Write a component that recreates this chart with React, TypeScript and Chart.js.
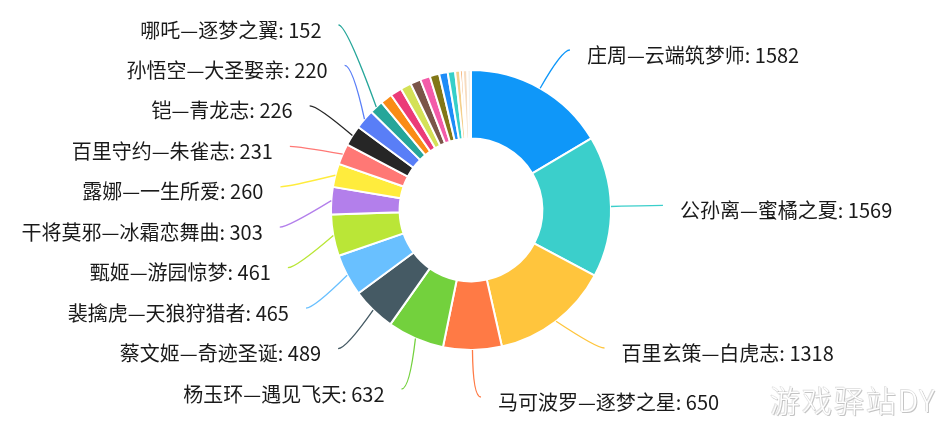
import React, { useEffect, useRef } from 'react';
import { Chart, registerables } from 'chart.js';

Chart.register(...registerables);

// ---- data ----
const skinNames: string[] = [
  '庄周—云端筑梦师',
  '公孙离—蜜橘之夏',
  '百里玄策—白虎志',
  '马可波罗—逐梦之星',
  '杨玉环—遇见飞天',
  '蔡文姬—奇迹圣诞',
  '裴擒虎—天狼狩猎者',
  '甄姬—游园惊梦',
  '干将莫邪—冰霜恋舞曲',
  '露娜—一生所爱',
  '百里守约—朱雀志',
  '铠—青龙志',
  '孙悟空—大圣娶亲',
  '哪吒—逐梦之翼',
  '其他皮肤1',
  '其他皮肤2',
  '其他皮肤3',
  '其他皮肤4',
  '其他皮肤5',
  '其他皮肤6',
  '其他皮肤7',
  '其他皮肤8',
  '其他皮肤9',
  '其他皮肤10',
  '其他皮肤11',
  '其他皮肤12',
];

const skinVotes: number[] = [
  1582, 1569, 1318, 650, 632, 489, 465, 461, 303, 260, 231, 226, 220, 152,
  132, 128, 120, 115, 110, 105, 95, 82, 55, 30, 50, 40,
];

const sliceColors: string[] = [
  '#0f97f9', '#3bcfcb', '#ffc53d', '#ff7a45', '#73d13d', '#455a64', '#69c0ff',
  '#bae637', '#b37feb', '#ffec3d', '#ff7875', '#262626', '#597ef7', '#26a69a',
  '#fa8c16', '#eb3b78', '#d4e157', '#7a5548', '#f35ca9', '#827717', '#1d8cf8',
  '#36cfc9', '#f4cf8a', '#f29a4a', '#f7dcc0', '#f3f1ec',
];

const LABEL_MIN_VALUE = 150;

// ---- label layout constants ----
const LEN1 = 44;
const LEN2 = 8;
const LABEL_H = 49;
const LABEL_MIN_Y = 25;
const LABEL_MAX_Y_LEFT = 389;
const LABEL_MAX_Y_RIGHT = 397;
const TEXT_GAP = 17;
const TEXT_DY = 5;
const LABEL_FONT = '20px "Noto Sans CJK SC", "Microsoft YaHei", sans-serif';

type Item = {
  i: number;
  dir: number;
  ax: number;
  ay: number;
  nx: number;
  ny: number;
  cx: number;
  cy: number;
  L: number;
  y: number;
  ex: number;
};

function layoutSide(list: Item[], minY: number, maxY: number) {
  const n = list.length;
  if (!n) return;
  list.sort((a, b) => a.ny - b.ny);
  const ys = list.map((it) => it.ny);
  for (let k = 1; k < n; k++) ys[k] = Math.max(ys[k], ys[k - 1] + LABEL_H);
  if (ys[n - 1] > maxY) {
    ys[n - 1] = maxY;
    for (let k = n - 2; k >= 0; k--) ys[k] = Math.min(ys[k], ys[k + 1] - LABEL_H);
  }
  if (ys[0] < minY) {
    if (n === 1) ys[0] = minY;
    else for (let k = 0; k < n; k++) ys[k] = minY + (k * (maxY - minY)) / (n - 1);
  }
  list.forEach((it, k) => {
    it.y = ys[k];
    const moved = Math.abs(ys[k] - it.ny) > 0.5;
    const dy = ys[k] - it.cy;
    if (moved && Math.abs(dy) < it.L) {
      const R = it.L + LEN2;
      it.ex = it.cx + it.dir * Math.sqrt(R * R - dy * dy);
    } else {
      it.ex = it.nx;
    }
  });
}

const leaderPlugin = {
  id: 'leaderLabels',
  afterDatasetsDraw(chart: any) {
    const meta = chart.getDatasetMeta(0);
    const ctx: CanvasRenderingContext2D = chart.ctx;
    const data = chart.data.datasets[0].data as number[];
    const names = chart.data.labels as string[];
    const colors = chart.data.datasets[0].backgroundColor as string[];
    const items: Item[] = [];
    meta.data.forEach((arc: any, i: number) => {
      const v = data[i];
      if (v < LABEL_MIN_VALUE) return;
      const p = arc.getProps(['x', 'y', 'startAngle', 'endAngle', 'outerRadius'], true);
      const mid = (p.startAngle + p.endAngle) / 2;
      const c = Math.cos(mid);
      const s = Math.sin(mid);
      const dir = c >= 0 ? 1 : -1;
      const L = p.outerRadius + LEN1;
      items.push({
        i,
        dir,
        ax: p.x + c * p.outerRadius,
        ay: p.y + s * p.outerRadius,
        nx: p.x + c * L + dir * LEN2,
        ny: p.y + s * L,
        cx: p.x,
        cy: p.y,
        L,
        y: 0,
        ex: 0,
      });
    });
    const left = items.filter((it) => it.dir < 0);
    const right = items.filter((it) => it.dir > 0);
    layoutSide(left, LABEL_MIN_Y, LABEL_MAX_Y_LEFT);
    layoutSide(right, LABEL_MIN_Y, LABEL_MAX_Y_RIGHT);

    ctx.save();
    items.forEach((it) => {
      const bx = it.ex - it.dir * LEN2;
      ctx.beginPath();
      ctx.strokeStyle = colors[it.i];
      ctx.lineWidth = 1.3;
      ctx.moveTo(it.ax, it.ay);
      ctx.quadraticCurveTo(bx, it.y, it.ex, it.y);
      ctx.stroke();

      ctx.font = LABEL_FONT;
      ctx.fillStyle = '#1a1a1a';
      ctx.textBaseline = 'middle';
      ctx.textAlign = it.dir > 0 ? 'left' : 'right';
      ctx.fillText(`${names[it.i]}: ${data[it.i]}`, it.ex + it.dir * TEXT_GAP, it.y + TEXT_DY);
    });
    ctx.restore();
  },
};

export default function App() {
  const canvasRef = useRef<HTMLCanvasElement | null>(null);

  useEffect(() => {
    document.body.style.margin = '0';
    const canvas = canvasRef.current;
    if (!canvas) return;
    const chart = new Chart(canvas, {
      type: 'doughnut',
      data: {
        labels: skinNames,
        datasets: [
          {
            data: skinVotes,
            backgroundColor: sliceColors,
            borderColor: '#ffffff',
            borderWidth: 2,
            hoverOffset: 0,
          },
        ],
      },
      options: {
        animation: false,
        responsive: true,
        maintainAspectRatio: false,
        cutout: '51%',
        layout: { padding: { left: 330, right: 334, top: 69, bottom: 81 } },
        plugins: {
          legend: { display: false },
          tooltip: { enabled: false },
        },
        events: [],
      },
      plugins: [leaderPlugin],
    });
    return () => chart.destroy();
  }, []);

  return (
    <div style={{ position: 'fixed', left: 0, top: 0, width: 946, height: 432, background: '#fff' }}>
      <canvas ref={canvasRef} />
      <div
        style={{
          position: 'absolute',
          left: 770,
          top: 377,
          fontSize: 30,
          fontFamily: '"Noto Sans CJK SC", sans-serif',
          fontWeight: 300,
          color: '#ffffff',
          letterSpacing: 2,
          textShadow: '1px 1px 0 #c4c4c4, -1px -1px 0 #e2e2e2, 0 0 1px #9a9a9a',
          whiteSpace: 'nowrap',
        }}
      >
        游戏驿站DY
      </div>
    </div>
  );
}
